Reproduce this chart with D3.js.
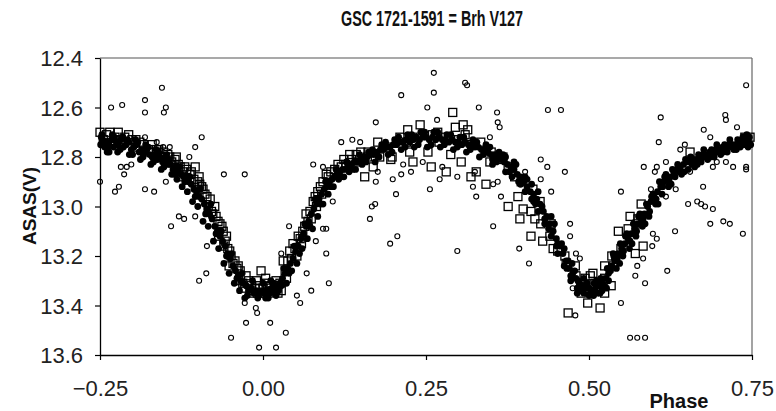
<!DOCTYPE html>
<html><head><meta charset="utf-8">
<script src="https://cdn.jsdelivr.net/npm/d3@7"></script>
<style>
html,body{margin:0;padding:0;background:#fff;}
svg text{font-family:"Liberation Sans",Arial,sans-serif;}
</style></head>
<body>
<svg id="chart" width="776" height="411"></svg>
<script>
const title = "GSC 1721-1591 = Brh V127";
const xLabel = "Phase";
const yLabel = "ASAS(V)";
const xTicks = [-0.25, 0.00, 0.25, 0.50, 0.75];
const yTicks = [12.4, 12.6, 12.8, 13.0, 13.2, 13.4, 13.6];

// Filled dots [phase, mag]
const dotData = [
[-0.249,12.75],[-0.246,12.73],[-0.243,12.76],[-0.240,12.74],[-0.236,12.75],[-0.236,12.78],[-0.232,12.73],[-0.229,12.76],[-0.225,12.74],[-0.222,12.75],[-0.218,12.73],[-0.214,12.76],[-0.210,12.75],[-0.206,12.74],[-0.202,12.77],[-0.198,12.76],[-0.194,12.75],[-0.190,12.78],[-0.186,12.77],[-0.182,12.78],[-0.178,12.77],[-0.174,12.79],[-0.170,12.80],[-0.166,12.79],[-0.162,12.81],[-0.158,12.80],[-0.154,12.82],[-0.150,12.81],[-0.146,12.83],[-0.142,12.83],[-0.138,12.85],[-0.134,12.84],[-0.130,12.86],[-0.126,12.87],[-0.122,12.88],[-0.118,12.88],[-0.114,12.90],[-0.110,12.91],[-0.106,12.93],[-0.102,12.94],[-0.098,12.96],[-0.094,12.97],[-0.090,12.99],[-0.086,13.01],[-0.082,13.03],[-0.078,13.05],[-0.074,13.08],[-0.070,13.10],[-0.066,13.12],[-0.062,13.14],[-0.058,13.16],[-0.054,13.19],[-0.050,13.21],[-0.046,13.24],[-0.042,13.26],[-0.038,13.28],[-0.034,13.30],[-0.030,13.31],[-0.026,13.32],[-0.022,13.34],[-0.018,13.33],[-0.014,13.35],[-0.010,13.34],[-0.006,13.35],[-0.002,13.34],
[0.002,13.35],[0.006,13.34],[0.010,13.35],[0.014,13.33],[0.018,13.34],[0.022,13.32],[0.026,13.31],[0.030,13.29],[0.034,13.27],[0.038,13.25],[0.042,13.23],[0.046,13.21],[0.050,13.18],[0.054,13.16],[0.058,13.13],[0.062,13.11],[0.066,13.08],[0.070,13.06],[0.074,13.03],[0.078,13.01],[0.082,12.99],[0.086,12.97],[0.090,12.95],[0.094,12.93],[0.098,12.92],[0.102,12.90],[0.106,12.89],[0.110,12.88],[0.114,12.87],[0.118,12.86],[0.122,12.85],[0.126,12.85],[0.130,12.84],[0.135,12.83],[0.140,12.82],[0.145,12.82],[0.150,12.81],[0.155,12.80],[0.160,12.80],[0.165,12.79],[0.170,12.79],[0.175,12.78],[0.180,12.77],[0.185,12.77],[0.190,12.76],[0.195,12.76],[0.200,12.75],[0.205,12.75],[0.210,12.74],[0.215,12.74],[0.220,12.73],[0.225,12.74],[0.230,12.73],[0.235,12.72],[0.240,12.73],[0.245,12.72],[0.250,12.72],[0.255,12.73],[0.260,12.72],[0.265,12.73],[0.270,12.72],[0.275,12.73],[0.280,12.73],[0.285,12.74],[0.290,12.73],[0.295,12.74],[0.300,12.74],[0.305,12.75],[0.310,12.74],[0.315,12.75],[0.320,12.75],[0.325,12.76],[0.330,12.76],[0.335,12.77],[0.340,12.77],[0.345,12.78],[0.350,12.79],[0.355,12.79],[0.360,12.80],[0.365,12.81],[0.370,12.82],[0.375,12.83],[0.380,12.84],[0.385,12.85],[0.390,12.87],[0.395,12.88],[0.400,12.90],[0.405,12.92],[0.410,12.94],[0.415,12.95],[0.420,12.97],[0.425,12.99],[0.430,13.02],[0.435,13.04],[0.440,13.07],[0.445,13.10],[0.450,13.13],[0.455,13.16],[0.460,13.19],[0.465,13.22],[0.470,13.25],[0.475,13.27],[0.480,13.29],[0.485,13.31],[0.490,13.32],[0.495,13.33],[0.500,13.33],[0.505,13.34],[0.510,13.33],[0.515,13.32],[0.520,13.31],[0.525,13.29],[0.530,13.27],[0.535,13.24],[0.540,13.22],[0.545,13.19],[0.550,13.17],[0.555,13.15],[0.560,13.13],[0.565,13.11],[0.570,13.09],[0.575,13.07],[0.580,13.05],[0.585,13.03],[0.590,13.00],[0.595,12.98],[0.600,12.96],[0.605,12.94],[0.610,12.92],[0.615,12.90],[0.620,12.89],[0.625,12.88],[0.630,12.86],[0.635,12.85],[0.640,12.84],[0.645,12.83],[0.650,12.82],[0.655,12.82],[0.660,12.81],[0.665,12.81],[0.670,12.80],[0.675,12.79],[0.680,12.79],[0.685,12.78],[0.690,12.78],[0.695,12.77],[0.700,12.77],[0.705,12.76],[0.710,12.76],[0.715,12.75],[0.720,12.75],[0.725,12.75],[0.730,12.74],[0.735,12.74],[0.740,12.73],[0.745,12.74],[0.748,12.75],
[0.352,12.81],[0.372,12.80],[0.388,12.83],[0.402,12.88],[0.412,12.91],[0.418,12.99],[0.428,13.00],[0.438,13.09],[0.447,13.07],[0.452,13.15],[0.462,13.17],[0.468,13.22],[0.472,13.28],[0.478,13.26],[0.483,13.30],[0.488,13.34],[0.497,13.31],[0.502,13.35],[0.508,13.31],[0.513,13.35],[0.518,13.29],[0.523,13.32],[0.528,13.25],[0.533,13.26],[0.538,13.20],[0.543,13.21],[0.548,13.15],[0.553,13.18],[0.558,13.11],[0.563,13.14],[0.568,13.07],[0.573,13.10],[0.578,13.03],[0.583,13.05],[0.588,12.99],[0.593,13.02],[0.598,12.95],[0.603,12.97],[0.608,12.90],[0.613,12.92],[0.618,12.87],[0.623,12.90],[0.628,12.85],[0.638,12.86],[0.648,12.81],[0.658,12.83],[0.668,12.79],[0.678,12.80],[0.688,12.77],[0.698,12.78],[0.708,12.75],[0.718,12.76],[0.728,12.73],[0.738,12.75],[0.746,12.72],
[-0.248,12.72],[-0.238,12.77],[-0.228,12.72],[-0.219,12.77],[-0.208,12.73],[-0.200,12.79],[-0.192,12.74],[-0.184,12.80],[-0.176,12.76],[-0.168,12.82],[-0.160,12.78],[-0.152,12.84],[-0.144,12.81],[-0.136,12.87],[-0.128,12.84],[-0.120,12.90],[-0.112,12.88],[-0.104,12.96],[-0.096,12.93],[-0.088,13.03],[-0.080,12.99],[-0.072,13.11],[-0.064,13.10],[-0.056,13.20],[-0.048,13.19],[-0.040,13.29],[-0.032,13.27],[-0.024,13.36],[-0.016,13.30],[-0.008,13.37],[0.000,13.31],[0.008,13.37],[0.016,13.31],[0.024,13.34],[0.032,13.25],[0.040,13.27],[0.048,13.16],[0.056,13.19],[0.064,13.07],[0.072,13.08],[0.080,12.97],[0.088,12.99],[0.096,12.90],[0.104,12.92],[0.112,12.85],[0.120,12.88],[0.128,12.82],[0.138,12.85],[0.148,12.79],[0.158,12.82],[0.168,12.77],[0.178,12.80],[0.188,12.74],[0.198,12.78],[0.208,12.72],[0.218,12.76],[0.228,12.71],[0.238,12.75],[0.248,12.70],[0.258,12.75],[0.268,12.70],[0.278,12.75],[0.288,12.71],[0.298,12.76],[0.308,12.72],[0.318,12.77],[0.328,12.74],[0.338,12.79],[0.348,12.76],[0.358,12.82],[0.368,12.79],[0.378,12.86],[0.385,12.82],[0.395,12.91],[0.405,12.89],[0.415,12.98],[0.422,12.94],[0.432,13.05],[0.442,13.04],[0.450,13.16],[0.458,13.15],[0.466,13.25],[0.474,13.23],[0.482,13.33],[0.492,13.29],[0.500,13.36],[0.512,13.30],[0.520,13.34],[0.530,13.30],[0.537,13.19],[0.547,13.23],[0.556,13.12],[0.566,13.15],[0.576,13.04],[0.586,13.07],[0.596,12.96],[0.606,12.99],[0.616,12.88],[0.626,12.91],[0.636,12.83],[0.646,12.86],[0.656,12.80],[0.666,12.83],[0.676,12.77],[0.686,12.80],[0.696,12.75],[0.706,12.78],[0.716,12.73],[0.726,12.77],[0.736,12.72],[0.744,12.76],
[-0.247,12.71],[-0.239,12.78],[-0.231,12.71],[-0.223,12.78],[-0.215,12.72],[-0.205,12.79],[-0.196,12.73],[-0.188,12.81],[-0.180,12.75],[-0.172,12.83],[-0.164,12.77],[-0.156,12.85],[-0.148,12.79],[-0.140,12.87],
[-0.132,12.89],[-0.124,12.92],[-0.116,12.94],[-0.108,12.98],[-0.100,13.00],[-0.092,13.06],[-0.084,13.08],[-0.076,13.14],[-0.068,13.17],[-0.060,13.23],[-0.052,13.27],[-0.044,13.31],[-0.036,13.34],[-0.028,13.37],
[0.004,13.37],[0.012,13.30],[0.020,13.36],[0.028,13.32],[0.036,13.31],[0.044,13.26],[0.052,13.23],[0.060,13.17],[0.068,13.13],[0.076,13.09],[0.084,13.04],[0.092,12.99],[0.100,12.95],[0.108,12.92],[0.116,12.89],[0.124,12.88],[0.132,12.86],[0.142,12.85],[0.152,12.83],
[0.162,12.78],[0.172,12.82],[0.182,12.75],[0.192,12.79],[0.202,12.73],[0.212,12.77],[0.222,12.71],[0.232,12.76],[0.242,12.70],[0.252,12.76],[0.262,12.70],[0.272,12.76],[0.282,12.71],[0.292,12.77],[0.302,12.72],[0.312,12.78],[0.322,12.73],[0.332,12.80],[0.342,12.75],[0.352,12.83],[0.362,12.78],[0.372,12.86],
[0.382,12.88],[0.392,12.90],[0.402,12.94],[0.412,12.97],[0.422,13.02],[0.432,13.07],[0.442,13.12],[0.452,13.19],[0.462,13.24],[0.472,13.30],[0.482,13.35],[0.492,13.35],[0.507,13.36],[0.517,13.35],[0.527,13.33],[0.542,13.25],[0.552,13.20],[0.562,13.17],[0.572,13.12],[0.582,13.08],[0.592,13.04],[0.602,12.99],[0.612,12.95],[0.622,12.92],[0.632,12.88],[0.642,12.87],[0.652,12.85],[0.662,12.84],[0.672,12.82],[0.682,12.81],[0.692,12.80],[0.702,12.79],[0.712,12.78],[0.722,12.77],[0.732,12.76],[0.742,12.71]
];

// Open squares [phase, mag]
const squareData = [
[-0.250,12.70],[-0.235,12.70],[-0.222,12.70],[-0.212,12.72],[-0.227,12.72],[-0.245,12.73],[-0.201,12.73],[-0.189,12.74],[-0.196,12.76],[-0.176,12.77],[-0.163,12.77],[-0.153,12.78],[-0.143,12.80],[-0.158,12.80],[-0.135,12.81],[-0.127,12.84],[-0.117,12.85],[-0.104,12.84],[-0.097,12.91],[-0.092,12.93],[-0.081,12.97],[-0.074,13.00],[-0.077,13.03],[-0.069,13.06],[-0.063,13.08],
[-0.172,12.78],[-0.146,12.79],[-0.133,12.80],[-0.123,12.86],[-0.112,12.87],[-0.100,12.90],[-0.089,12.95],[-0.058,13.14],[-0.054,13.17],[-0.061,13.10],
[-0.049,13.20],[-0.043,13.22],[-0.035,13.26],[-0.026,13.28],[-0.031,13.31],[-0.018,13.32],[-0.003,13.26],[-0.005,13.32],[0.012,13.32],[0.023,13.35],[0.008,13.35],[0.026,13.31],[0.034,13.26],[0.031,13.22],[0.041,13.18],[0.049,13.17],[0.057,13.13],[0.061,13.10],[0.069,13.06],[0.072,13.02],[0.077,12.98],[0.084,12.94],[0.092,12.90],[0.097,12.87],[0.110,12.85],[0.120,12.84],[0.127,12.83],[0.133,12.79],[0.143,12.79],[0.146,12.82],
[-0.040,13.25],[-0.020,13.34],[-0.010,13.30],[0.000,13.33],[0.005,13.31],[0.015,13.34],[0.020,13.30],[-0.015,13.35],[-0.008,13.35],[0.002,13.35],
[-0.110,12.86],[-0.106,12.89],[-0.098,12.88],[-0.094,12.92],[-0.086,12.96],[-0.084,13.00],[-0.079,13.02],[-0.072,13.04],[-0.066,13.07],[-0.068,13.12],[-0.060,13.16],[-0.056,13.12],[-0.051,13.18],[-0.046,13.23],[-0.052,13.24],[-0.038,13.24],[-0.037,13.30],[-0.028,13.33],[-0.022,13.30],[-0.012,13.33],[0.004,13.29],[0.010,13.33],[0.018,13.32],[0.028,13.34],[0.036,13.29],[0.038,13.22],[0.044,13.21],[0.046,13.15],[0.052,13.20],[0.054,13.12],[0.059,13.15],[0.064,13.08],[0.066,13.03],[0.074,13.05],[0.080,12.96],[0.082,13.00],[0.088,12.92],[0.090,12.95],[0.100,12.88],[0.104,12.86],[0.115,12.83],[0.124,12.81],[0.136,12.81],[0.150,12.78],
[-0.240,12.71],[-0.230,12.74],[-0.218,12.73],[-0.206,12.71],[-0.195,12.73],[-0.183,12.75],[-0.170,12.75],[-0.160,12.77],[-0.150,12.80],[-0.140,12.82],[-0.130,12.83],[-0.120,12.84],[-0.125,12.88],
[0.156,12.88],[0.169,12.84],[0.196,12.81],[0.225,12.78],[0.230,12.82],[0.258,12.84],[0.253,12.78],[0.281,12.86],[0.288,12.79],[0.304,12.82],[0.291,12.62],[0.319,12.88],[0.342,12.91],[0.327,12.86],[0.241,12.67],[0.268,12.70],[0.307,12.67],[0.314,12.69],[0.295,12.68],[0.334,12.74],[0.348,12.82],[0.222,12.69],[0.210,12.72],[0.176,12.74],[0.161,12.78],[0.179,12.80],[0.198,12.80],
[0.160,12.80],[0.190,12.76],[0.220,12.74],[0.260,12.71],[0.280,12.72],[0.300,12.73],[0.320,12.75],[0.230,12.72],[0.270,12.74],[0.310,12.71],
[0.350,12.78],[0.368,12.80],[0.376,12.84],[0.386,12.88],[0.396,12.90],[0.414,12.93],[0.391,12.96],[0.376,13.00],[0.399,13.01],[0.394,13.05],[0.411,13.02],[0.425,12.98],[0.417,13.05],[0.426,13.07],[0.442,13.07],[0.411,13.12],[0.429,13.14],[0.440,13.12],[0.445,13.17],[0.452,13.18],[0.463,13.20],[0.465,13.23],[0.479,13.24],[0.480,13.28],[0.494,13.29],[0.506,13.27],[0.524,13.24],[0.524,13.29],[0.488,13.35],[0.524,13.35],[0.534,13.32],[0.537,13.24],[0.541,13.20],[0.498,13.39],[0.517,13.41],[0.468,13.43],[0.545,13.10],[0.509,13.31],[0.502,13.28],[0.367,12.81],
[0.560,13.09],[0.574,13.07],[0.583,13.16],[0.571,13.19],[0.535,13.20],[0.580,12.99],[0.563,13.04],[0.575,13.05],[0.549,13.17],[0.655,12.78],[0.739,12.72],[0.747,12.72]
];

// Open circles [phase, mag]
const circleData = [
[-0.155,12.52],[-0.181,12.57],[-0.233,12.60],[-0.216,12.59],[-0.181,12.62],[-0.149,12.60],[-0.152,12.62],[-0.181,12.72],[-0.163,12.74],[-0.153,12.76],[-0.143,12.76],[-0.094,12.72],[-0.104,12.76],[-0.113,12.80],[-0.250,12.90],[-0.227,12.94],[-0.221,12.92],[-0.218,12.84],[-0.209,12.84],[-0.202,12.83],[-0.213,12.87],[-0.181,12.93],[-0.167,12.94],[-0.149,12.90],[-0.060,12.87],[-0.129,13.04],[-0.121,13.05],[-0.141,13.08],[-0.104,13.04],[-0.086,13.16],[-0.098,13.30],[-0.087,13.27],[-0.049,13.53],[-0.095,12.91],
[-0.028,12.87],[0.120,12.74],[0.137,12.73],[0.149,12.74],[0.077,12.83],[0.092,12.84],[0.107,12.98],[0.040,13.08],[0.092,13.09],[0.097,13.09],[0.081,13.14],[0.097,13.19],[0.028,13.19],[0.067,13.27],[0.074,13.34],[0.101,13.31],[0.052,13.36],[0.057,13.39],[-0.028,13.39],[-0.011,13.41],[-0.009,13.43],[-0.026,13.47],[0.011,13.47],[0.035,13.51],[-0.006,13.57],[0.020,13.57],
[0.164,13.05],[0.195,13.15],[0.206,13.12],[0.298,13.18],[0.353,13.08],[0.262,12.46],[0.310,12.50],[0.313,12.51],[0.262,12.54],[0.212,12.55],[0.252,12.60],[0.331,12.60],[0.359,12.62],[0.360,12.66],[0.173,12.66],[0.267,12.65],[0.215,12.83],[0.212,12.87],[0.227,12.86],[0.199,12.89],[0.173,12.90],[0.245,12.82],[0.275,12.84],[0.271,12.89],[0.298,12.88],[0.256,12.93],[0.204,12.95],[0.172,12.99],[0.167,13.00],[0.327,12.96],[0.353,12.91],[0.348,12.72],[0.176,12.86],[0.322,12.92],[0.325,12.86],
[0.363,12.68],[0.437,12.61],[0.457,12.61],[0.426,12.81],[0.436,12.84],[0.463,12.86],[0.426,12.89],[0.442,12.94],[0.402,12.86],[0.360,12.90],[0.365,12.96],[0.471,13.07],[0.471,13.12],[0.393,13.17],[0.408,13.23],[0.480,13.19],[0.486,13.21],[0.549,12.94],[0.549,13.39],[0.479,13.44],[0.475,13.33],[0.483,13.33],
[0.563,13.53],[0.574,13.53],[0.586,13.53],[0.574,13.24],[0.571,13.28],[0.586,13.31],[0.583,13.21],[0.620,13.26],[0.598,13.11],[0.604,13.13],[0.597,13.16],[0.632,13.10],[0.686,13.07],[0.706,13.06],[0.716,13.07],[0.736,13.11],
[0.741,12.51],[0.610,12.64],[0.709,12.63],[0.710,12.65],[0.727,12.68],[0.676,12.69],[0.686,12.72],[0.607,12.74],[0.640,12.77],[0.647,12.75],[0.696,12.82],[0.710,12.82],[0.721,12.84],[0.741,12.84],[0.741,12.85],[0.690,12.84],[0.655,12.86],[0.584,12.84],[0.604,12.84],[0.601,12.86],[0.618,12.82],[0.595,12.93],[0.633,12.93],[0.618,12.96],[0.675,12.92],[0.652,12.99],[0.666,12.98],[0.672,12.99],[0.678,13.00],[0.690,13.01]
];

const svg = d3.select("#chart");
const L = 100, R = 752, T = 58, B = 355;

const x = d3.scaleLinear().domain([xTicks[0], xTicks[xTicks.length-1]]).range([L, R]);
const y = d3.scaleLinear().domain([yTicks[0], yTicks[yTicks.length-1]]).range([T, B]);

// plot frame (top and right)
svg.append("line").attr("x1", L).attr("x2", R).attr("y1", T).attr("y2", T)
  .attr("stroke", "#555").attr("stroke-width", 1.2);
svg.append("line").attr("x1", R).attr("x2", R).attr("y1", T).attr("y2", B)
  .attr("stroke", "#666").attr("stroke-width", 1.2);

// axes
const xAxis = d3.axisBottom(x).tickValues(xTicks).tickFormat(d3.format(".2f")).tickSize(5).tickSizeOuter(0);
const yAxis = d3.axisLeft(y).tickValues(yTicks).tickFormat(d3.format(".1f")).tickSize(5).tickSizeOuter(0);

const gx = svg.append("g").attr("transform", `translate(0,${B})`).call(xAxis);
const gy = svg.append("g").attr("transform", `translate(${L},0)`).call(yAxis);
[gx, gy].forEach(g => {
  g.select(".domain").attr("stroke", "#000").attr("stroke-width", 1.3);
  g.selectAll(".tick line").attr("stroke", "#000").attr("stroke-width", 1.2);
  g.selectAll(".tick text").attr("fill", "#222").style("font-size", "22px")
    .style("font-family", '"Liberation Sans", Arial, sans-serif');
});
gx.selectAll(".tick text").attr("dy", null).attr("y", 41);
gy.selectAll(".tick text").attr("x", -17).attr("dy", "0.36em");

// data layers
const plot = svg.append("g");
plot.selectAll("circle.asas").data(circleData).join("circle").attr("class", "asas")
  .attr("cx", d => x(d[0])).attr("cy", d => y(d[1])).attr("r", 2.5)
  .attr("fill", "none").attr("stroke", "#000").attr("stroke-width", 1.1);
plot.selectAll("rect.sq").data(squareData).join("rect").attr("class", "sq")
  .attr("x", d => x(d[0]) - 4).attr("y", d => y(d[1]) - 4).attr("width", 8).attr("height", 8)
  .attr("fill", "none").attr("stroke", "#000").attr("stroke-width", 1.3);
plot.selectAll("circle.dot").data(dotData).join("circle").attr("class", "dot")
  .attr("cx", d => x(d[0])).attr("cy", d => y(d[1])).attr("r", 3.4)
  .attr("fill", "#000");

// titles
svg.append("text").attr("x", 432).attr("y", 26).attr("text-anchor", "middle")
  .attr("textLength", 182).attr("lengthAdjust", "spacingAndGlyphs")
  .style("font-size", "22px").style("font-weight", "bold").attr("fill", "#111").text(title);
svg.append("text").attr("transform", "translate(36,206) rotate(-90)").attr("text-anchor", "middle")
  .style("font-size", "19px").style("font-weight", "bold").attr("fill", "#111").text(yLabel);
svg.append("text").attr("x", 679).attr("y", 408).attr("text-anchor", "middle")
  .style("font-size", "20px").style("font-weight", "bold").attr("fill", "#111").text(xLabel);
</script>
</body></html>
